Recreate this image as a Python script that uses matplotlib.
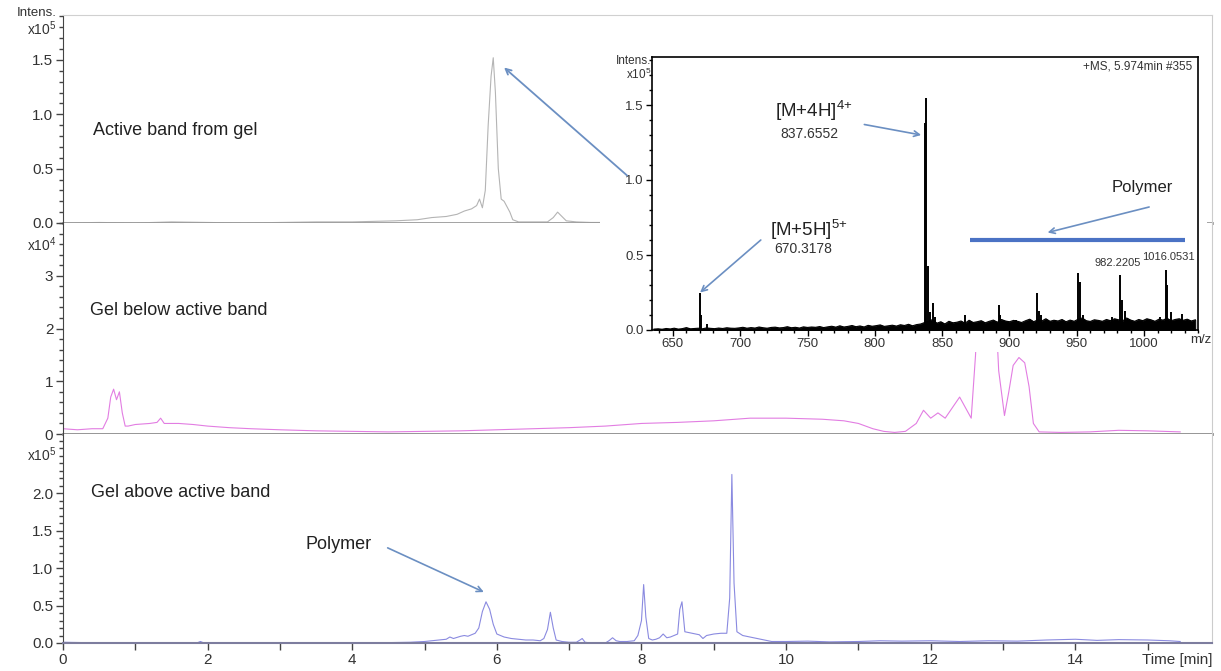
import numpy as np
import matplotlib.pyplot as plt
from matplotlib.patches import Rectangle
from matplotlib.ticker import FixedLocator, MultipleLocator, FormatStrFormatter

plt.rcParams['font.family'] = ['Liberation Sans', 'DejaVu Sans']
plt.rcParams['mathtext.fontset'] = 'custom'
plt.rcParams['mathtext.rm'] = 'Liberation Sans'
plt.rcParams['mathtext.it'] = 'Liberation Sans:italic'
plt.rcParams['mathtext.bf'] = 'Liberation Sans:bold'

# --- chromatograms (time in min) ---
# active band from gel, x10^5
t_top = [0, 0.5, 1, 1.5, 2, 2.5, 3, 3.5, 4, 4.3,
         4.6, 4.9, 5.1, 5.3, 5.45, 5.55, 5.65, 5.72, 5.76, 5.8,
         5.84, 5.88, 5.92, 5.95, 5.98, 6.02, 6.06, 6.1, 6.14, 6.18,
         6.22, 6.3, 6.5, 6.7, 6.78, 6.84, 6.9, 6.96, 7.1, 7.3,
         7.5]
i_top = [0.0, 0.005, 0.0, 0.01, 0.005, 0.0, 0.005, 0.01, 0.01, 0.015,
         0.02, 0.03, 0.05, 0.06, 0.08, 0.11, 0.13, 0.16, 0.22, 0.14,
         0.3, 0.9, 1.35, 1.52, 1.2, 0.5, 0.22, 0.2, 0.15, 0.1,
         0.03, 0.01, 0.01, 0.01, 0.05, 0.1, 0.06, 0.02, 0.01, 0.005,
         0.005]

# gel below active band, x10^4
t_mid = [0.0, 0.2, 0.4, 0.55, 0.62, 0.66, 0.70, 0.74, 0.78, 0.82,
         0.86, 0.9, 1.0, 1.2, 1.3, 1.35, 1.4, 1.6, 1.8, 2.0,
         2.3, 2.6, 3.0, 3.5, 4.0, 4.5, 5.0, 5.5, 6.0, 6.5,
         7.0, 7.5, 8.0, 8.5, 9.0, 9.5, 10.0, 10.5, 10.8, 11.0,
         11.2, 11.35, 11.5, 11.65, 11.8, 11.9, 12.0, 12.1, 12.2, 12.3,
         12.4, 12.5, 12.56, 12.62, 12.68, 12.86, 12.94, 13.02, 13.08, 13.14,
         13.22, 13.3, 13.36, 13.42, 13.5, 13.8, 14.2, 14.6, 15.0, 15.45]
i_mid = [0.10, 0.08, 0.10, 0.10, 0.30, 0.70, 0.85, 0.65, 0.80, 0.40,
         0.15, 0.15, 0.18, 0.20, 0.22, 0.30, 0.20, 0.20, 0.18, 0.15,
         0.12, 0.10, 0.08, 0.06, 0.05, 0.04, 0.05, 0.06, 0.08, 0.10,
         0.12, 0.15, 0.20, 0.22, 0.25, 0.30, 0.30, 0.28, 0.25, 0.20,
         0.10, 0.05, 0.03, 0.05, 0.20, 0.45, 0.30, 0.40, 0.30, 0.50,
         0.70, 0.45, 0.30, 1.5, 3.5, 3.5, 1.2, 0.35, 0.8, 1.3,
         1.45, 1.35, 0.9, 0.2, 0.04, 0.03, 0.04, 0.07, 0.06, 0.04]

# gel above active band, x10^5
t_bot = [0.0, 0.3, 0.6, 1.0, 1.5, 1.85, 1.9, 1.95, 2.5, 3.0,
         3.5, 4.0, 4.5, 4.8, 5.0, 5.1, 5.2, 5.3, 5.35, 5.4,
         5.5, 5.55, 5.6, 5.65, 5.7, 5.75, 5.8, 5.85, 5.9, 5.95,
         6.0, 6.1, 6.2, 6.3, 6.4, 6.5, 6.6, 6.65, 6.7, 6.74,
         6.78, 6.82, 6.9, 7.0, 7.1, 7.15, 7.18, 7.22, 7.3, 7.5,
         7.55, 7.6, 7.65, 7.7, 7.8, 7.9, 7.95, 8.0, 8.03, 8.06,
         8.1, 8.15, 8.2, 8.25, 8.3, 8.35, 8.4, 8.45, 8.5, 8.53,
         8.56, 8.6, 8.7, 8.8, 8.85, 8.9, 9.0, 9.1, 9.18, 9.22,
         9.25, 9.28, 9.32, 9.4, 9.5, 9.6, 9.7, 9.8, 10.0, 10.3,
         10.6, 11.0, 11.3, 11.6, 12.0, 12.4, 12.8, 13.2, 13.6, 14.0,
         14.3, 14.6, 15.0, 15.3, 15.45]
i_bot = [0.010, 0.005, 0.0, 0.0, 0.0, 0.0, 0.02, 0.0, 0.0, 0.0,
         0.0, 0.0, 0.005, 0.01, 0.02, 0.03, 0.04, 0.05, 0.08, 0.06,
         0.09, 0.10, 0.09, 0.11, 0.13, 0.20, 0.42, 0.55, 0.45, 0.25,
         0.12, 0.08, 0.06, 0.05, 0.04, 0.04, 0.03, 0.06, 0.18, 0.41,
         0.20, 0.04, 0.02, 0.01, 0.01, 0.04, 0.06, 0.01, 0.0, 0.0,
         0.03, 0.07, 0.03, 0.02, 0.02, 0.03, 0.10, 0.30, 0.78, 0.35,
         0.06, 0.04, 0.05, 0.07, 0.12, 0.07, 0.08, 0.10, 0.12, 0.45,
         0.55, 0.15, 0.13, 0.11, 0.06, 0.10, 0.12, 0.13, 0.13, 0.60,
         2.25, 0.80, 0.15, 0.10, 0.08, 0.06, 0.04, 0.02, 0.02, 0.025,
         0.015, 0.02, 0.03, 0.025, 0.03, 0.02, 0.03, 0.025, 0.04, 0.05,
         0.035, 0.045, 0.04, 0.03, 0.02]

# --- mass spectrum at 5.974 min, x10^5 ---
mz_grid = np.arange(636, 1039, 3)
noise = [0.006, 0.008, 0.005, 0.010, 0.007, 0.012, 0.006, 0.009, 0.016, 0.008,
         0.010, 0.012, 0.008, 0.014, 0.011, 0.009, 0.013, 0.010, 0.015, 0.012,
         0.011, 0.014, 0.018, 0.012, 0.016, 0.013, 0.020, 0.015, 0.012, 0.017,
         0.019, 0.014, 0.016, 0.022, 0.015, 0.018, 0.013, 0.021, 0.017, 0.020,
         0.018, 0.023, 0.016, 0.021, 0.025, 0.019, 0.028, 0.020, 0.024, 0.030,
         0.022, 0.027, 0.020, 0.031, 0.025, 0.029, 0.034, 0.024, 0.028, 0.032,
         0.026, 0.035, 0.030, 0.038, 0.028, 0.036, 0.040, 0.050, 0.060, 0.070,
         0.045, 0.055, 0.040, 0.058, 0.048, 0.052, 0.060, 0.045, 0.065, 0.050,
         0.055, 0.062, 0.048, 0.058, 0.066, 0.052, 0.070, 0.060, 0.055, 0.064,
         0.058, 0.050, 0.062, 0.072, 0.055, 0.068, 0.060, 0.075, 0.058, 0.065,
         0.060, 0.070, 0.055, 0.066, 0.058, 0.072, 0.080, 0.062, 0.057, 0.068,
         0.064, 0.058, 0.070, 0.062, 0.075, 0.068, 0.060, 0.080, 0.066, 0.058,
         0.070, 0.062, 0.075, 0.068, 0.058, 0.072, 0.066, 0.078, 0.062, 0.070,
         0.075, 0.065, 0.072, 0.060, 0.068]
pk_mz = [670.3, 671.2, 675.0, 837.4, 837.66, 839.5, 840.8, 843.0, 845.0, 867.0,
         892.0, 893.2, 905.0, 920.5, 921.6, 923.5, 951.0, 952.0, 954.5, 976.0,
         982.2, 983.2, 986.0, 1012.0, 1016.05, 1017.1, 1020.0, 1028.0]
pk_int = [0.25, 0.10, 0.04, 1.38, 1.55, 0.43, 0.12, 0.18, 0.09, 0.10,
          0.17, 0.10, 0.07, 0.25, 0.13, 0.10, 0.38, 0.32, 0.10, 0.09,
          0.37, 0.20, 0.13, 0.09, 0.40, 0.30, 0.12, 0.11]

arrow_col = '#6b8fc2'
txt_col = '#222222'
lab_col = '#333333'

fig = plt.figure(figsize=(12.21, 6.71), dpi=100)
L, W = 63 / 1221, 1149 / 1221
ax_top = fig.add_axes([L, 1 - 223 / 671, W, 208 / 671])
ax_mid = fig.add_axes([L, 1 - 434 / 671, W, 211 / 671])
ax_bot = fig.add_axes([L, 1 - 643 / 671, W, 209 / 671])

ax_top.plot(t_top, i_top, color='#b4b4b4', lw=0.8)
ax_mid.plot(t_mid, i_mid, color='#e27de2', lw=0.8)
ax_bot.plot(t_bot, i_bot, color='#8a8ae0', lw=0.8)

for ax in (ax_top, ax_mid, ax_bot):
    ax.set_xlim(0, 15.89)
    for s in ('top', 'bottom'):
        ax.spines[s].set_visible(False)
    ax.spines['right'].set_color('#cccccc')
    ax.spines['left'].set_color('#444444')
    ax.tick_params(axis='y', which='major', length=5, width=1, color='#444444',
                   labelsize=11, labelcolor=lab_col, pad=2)
    ax.tick_params(axis='y', which='minor', length=3, width=1, color='#444444')
    ax.tick_params(axis='x', which='both', bottom=False, labelbottom=False)

ax_top.spines['top'].set_visible(True)
ax_top.spines['top'].set_color('#d0d0d0')

ax_top.set_ylim(0, 1.913)
ax_top.yaxis.set_major_locator(FixedLocator([0, 0.5, 1.0, 1.5]))
ax_top.yaxis.set_minor_locator(MultipleLocator(0.1))
ax_top.yaxis.set_major_formatter(FormatStrFormatter('%.1f'))
ax_top.axhline(0, color='#9a9a9a', lw=2, clip_on=False)

ax_mid.set_ylim(0, 4.0)
ax_mid.yaxis.set_major_locator(FixedLocator([0, 1, 2, 3]))
ax_mid.yaxis.set_minor_locator(MultipleLocator(0.2))
ax_mid.yaxis.set_major_formatter(FormatStrFormatter('%d'))
ax_mid.axhline(0, color='#8c8c8c', lw=2, clip_on=False)

ax_bot.set_ylim(0, 2.79)
ax_bot.yaxis.set_major_locator(FixedLocator([0, 0.5, 1.0, 1.5, 2.0]))
ax_bot.yaxis.set_minor_locator(MultipleLocator(0.1))
ax_bot.yaxis.set_major_formatter(FormatStrFormatter('%.1f'))
ax_bot.spines['bottom'].set_visible(True)
ax_bot.spines['bottom'].set_color('#7d7d9e')
ax_bot.spines['bottom'].set_linewidth(1.5)
ax_bot.xaxis.set_major_locator(MultipleLocator(2))
ax_bot.xaxis.set_minor_locator(MultipleLocator(1))
ax_bot.tick_params(axis='x', which='major', bottom=True, labelbottom=True, length=5,
                   width=1, color='#444444', labelsize=11, labelcolor=lab_col, pad=2)
ax_bot.tick_params(axis='x', which='minor', bottom=True, length=5, width=1, color='#444444')
ax_bot.text(1.0, -0.081, 'Time [min]', transform=ax_bot.transAxes, ha='right',
            va='center', fontsize=11, color=lab_col)

# intensity unit labels
ax_top.text(-0.0052, 1.012, 'Intens.', transform=ax_top.transAxes, ha='right', va='center',
            fontsize=9.5, color=lab_col)
ax_top.text(-0.0052, 0.935, 'x10$^5$', transform=ax_top.transAxes, ha='right', va='center',
            fontsize=10, color=lab_col)
ax_mid.text(-0.0052, 0.896, 'x10$^4$', transform=ax_mid.transAxes, ha='right', va='center',
            fontsize=10, color=lab_col)
ax_bot.text(-0.0052, 0.90, 'x10$^5$', transform=ax_bot.transAxes, ha='right', va='center',
            fontsize=10, color=lab_col)

ax_top.text(0.026, 0.447, 'Active band from gel', transform=ax_top.transAxes,
            fontsize=13, color=txt_col, va='center')
ax_mid.text(0.0235, 0.583, 'Gel below active band', transform=ax_mid.transAxes,
            fontsize=13, color=txt_col, va='center')
ax_bot.text(0.0244, 0.718, 'Gel above active band', transform=ax_bot.transAxes,
            fontsize=13, color=txt_col, va='center')

ax_bot.text(3.36, 1.31, 'Polymer', fontsize=13, color=txt_col, va='center')
ax_bot.annotate('', xy=(5.82, 0.68), xytext=(4.49, 1.27),
                arrowprops=dict(arrowstyle='->', color=arrow_col, lw=1.2,
                                shrinkA=0, shrinkB=0))

# --- inset mass spectrum ---
fig.patches.append(Rectangle((600 / 1221, 1 - 352 / 671), 607 / 1221, 302 / 671,
                             transform=fig.transFigure, facecolor='white',
                             edgecolor='none', zorder=1))
ax_in = fig.add_axes([652 / 1221, 1 - 330 / 671, 546 / 1221, 273 / 671])
ax_in.set_zorder(2)
ax_in.fill_between(mz_grid, 0, noise, color='black', lw=0.6)
ax_in.plot(mz_grid, noise, color='black', lw=0.8)
ax_in.vlines(pk_mz, 0, pk_int, color='black', lw=1.4)
ax_in.set_xlim(634.5, 1040)
ax_in.set_ylim(0, 1.82)
for s in ax_in.spines.values():
    s.set_color('black')
    s.set_linewidth(1.2)
ax_in.xaxis.set_major_locator(MultipleLocator(50))
ax_in.xaxis.set_minor_locator(MultipleLocator(10))
ax_in.yaxis.set_major_locator(FixedLocator([0, 0.5, 1.0, 1.5]))
ax_in.yaxis.set_minor_locator(MultipleLocator(0.1))
ax_in.yaxis.set_major_formatter(FormatStrFormatter('%.1f'))
ax_in.tick_params(which='major', length=4, width=1, color='black', labelsize=9.5,
                  labelcolor=lab_col, pad=2)
ax_in.tick_params(which='minor', length=2.5, width=1, color='black')

ax_in.text(-0.002, 0.985, 'Intens.', transform=ax_in.transAxes, ha='right', va='center',
           fontsize=8.5, color=lab_col)
ax_in.text(-0.002, 0.935, 'x10$^5$', transform=ax_in.transAxes, ha='right', va='center',
           fontsize=8.5, color=lab_col)
ax_in.text(1.0055, -0.037, 'm/z', transform=ax_in.transAxes, ha='center', va='center',
           fontsize=9.5, color=lab_col)
ax_in.text(0.99, 0.965, '+MS, 5.974min #355', transform=ax_in.transAxes, ha='right',
           va='center', fontsize=8.5, color=lab_col)

ax_in.text(725.8, 1.46, '[M+4H]$^{4{+}}$', fontsize=13.5, color=txt_col, va='center')
ax_in.text(729.5, 1.31, '837.6552', fontsize=10, color=lab_col, va='center')
ax_in.annotate('', xy=(834.4, 1.30), xytext=(792.2, 1.37),
               arrowprops=dict(arrowstyle='->', color=arrow_col, lw=1.2, shrinkA=0, shrinkB=0))
ax_in.text(722.1, 0.67, '[M+5H]$^{5{+}}$', fontsize=13.5, color=txt_col, va='center')
ax_in.text(725.1, 0.54, '670.3178', fontsize=10, color=lab_col, va='center')
ax_in.annotate('', xy=(670.2, 0.25), xytext=(715.3, 0.60),
               arrowprops=dict(arrowstyle='->', color=arrow_col, lw=1.2, shrinkA=0, shrinkB=0))
ax_in.text(999, 0.95, 'Polymer', fontsize=12, color=txt_col, ha='center', va='center')
ax_in.annotate('', xy=(928.3, 0.65), xytext=(1003.7, 0.82),
               arrowprops=dict(arrowstyle='->', color=arrow_col, lw=1.2, shrinkA=0, shrinkB=0))
ax_in.hlines(0.6, 871, 1030, color='#4a72c4', lw=3)
ax_in.text(980, 0.41, '982.2205', fontsize=8, color=lab_col, ha='center', va='bottom')
ax_in.text(1018.3, 0.45, '1016.0531', fontsize=8, color=lab_col, ha='center', va='bottom')

# arrow from the spectrum back to the peak it was taken from
ax_in.annotate('', xy=(6.1, 1.43), xycoords=ax_top.transData, xytext=(616, 1.03),
               textcoords='data', annotation_clip=False,
               arrowprops=dict(arrowstyle='->', color=arrow_col, lw=1.3, shrinkA=0, shrinkB=0))

fig.savefig('out.png', dpi=100)
